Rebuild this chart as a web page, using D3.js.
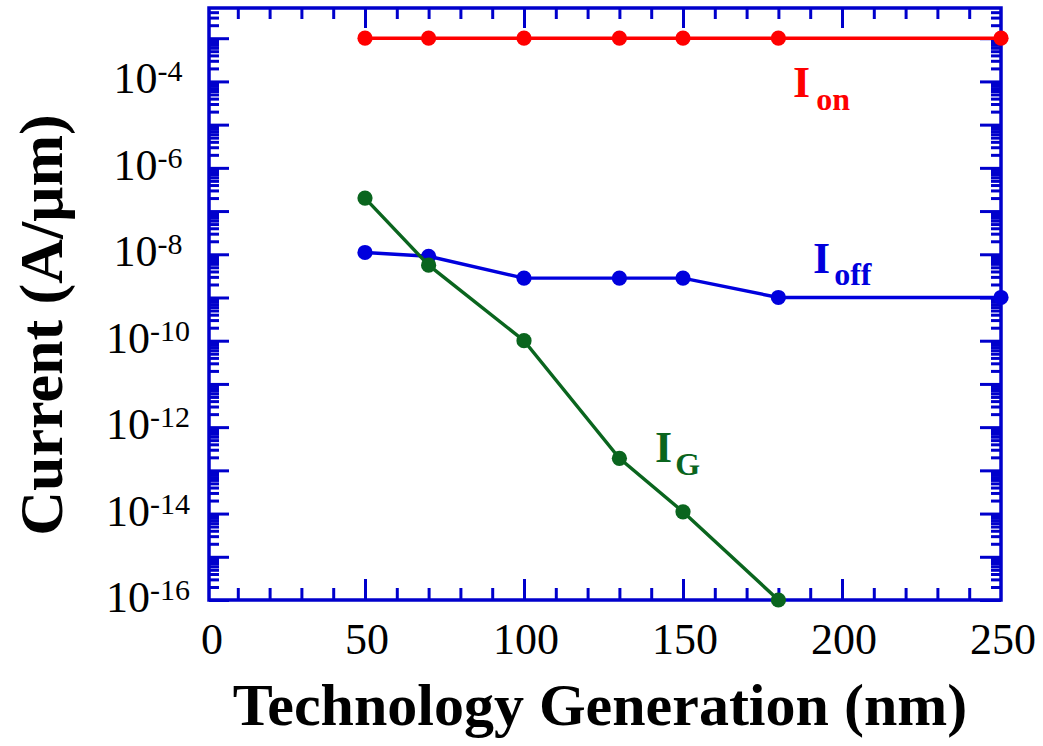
<!DOCTYPE html>
<html>
<head>
<meta charset="utf-8">
<script src="https://cdn.jsdelivr.net/npm/d3@7"></script>
<style>
  html, body { margin: 0; padding: 0; background: #ffffff; }
  svg { display: block; }
  text { font-family: "Liberation Serif", "Times New Roman", serif; }
</style>
</head>
<body>
<svg id="chart" width="1043" height="746"></svg>
<script>
// ---------- data ----------
const techNodes = [50, 70, 100, 130, 150, 180, 250];
const ionValues = [1e-3, 1e-3, 1e-3, 1e-3, 1e-3, 1e-3, 1e-3];
const ioffValues = [1.1e-8, 9e-9, 2.8e-9, 2.8e-9, 2.8e-9, 1e-9, 1e-9];
const igNodes = [50, 70, 100, 130, 150, 180];
const igValues = [2e-7, 5.6e-9, 1e-10, 1.9e-13, 1.1e-14, 1e-16];

const xTickValues = [0, 50, 100, 150, 200, 250];
const yLabelExponents = [-16, -14, -12, -10, -8, -6, -4];
const xTitle = "Technology Generation (nm)";
const yTitle = "Current (A/\u03bcm)";

// ---------- layout ----------
const W = 1043, H = 746;
const L = 209, R = 1001, T = 8, B = 600;
const axisColor = "#0000cc";
const cRed = "#ff0000", cBlue = "#0000dd", cGreen = "#0a651e";

const svg = d3.select("#chart");

const x = d3.scaleLinear().domain([0, 250]).range([206, R]);
const y = d3.scaleLog().domain([1e-16, 5e-3]).range([B, T]);

// tick value sets
const xMinor = d3.range(0, 251, 10).filter(v => v % 50 !== 0);
const yMajor = d3.range(-16, -2).map(e => Math.pow(10, e));
const yMinor = [];
d3.range(-16, -2).forEach(e => {
  for (let m = 2; m <= 9; m++) {
    const v = m * Math.pow(10, e);
    if (v < 5e-3) yMinor.push(v);
  }
});

function styleAxis(g) {
  g.select(".domain").remove();
  g.selectAll(".tick line").attr("stroke", axisColor).attr("stroke-width", 3);
  g.selectAll(".tick text").remove();
}

// bottom
svg.append("g").attr("transform", `translate(0,${B})`)
  .call(d3.axisBottom(x).tickValues(xTickValues.filter(v => v > 0 && v < 250)).tickSize(-21).tickFormat("")).call(styleAxis);
svg.append("g").attr("transform", `translate(0,${B})`)
  .call(d3.axisBottom(x).tickValues(xMinor).tickSize(-12).tickFormat("")).call(styleAxis);
// top
svg.append("g").attr("transform", `translate(0,${T})`)
  .call(d3.axisTop(x).tickValues(xTickValues.filter(v => v > 0 && v < 250)).tickSize(-20).tickFormat("")).call(styleAxis);
svg.append("g").attr("transform", `translate(0,${T})`)
  .call(d3.axisTop(x).tickValues(xMinor).tickSize(-11).tickFormat("")).call(styleAxis);
// left
svg.append("g").attr("transform", `translate(${L},0)`)
  .call(d3.axisLeft(y).tickValues(yMajor).tickSize(-20).tickFormat("")).call(styleAxis);
svg.append("g").attr("transform", `translate(${L},0)`)
  .call(d3.axisLeft(y).tickValues(yMinor).tickSize(-10).tickFormat("")).call(styleAxis);
// right
svg.append("g").attr("transform", `translate(${R},0)`)
  .call(d3.axisRight(y).tickValues(yMajor).tickSize(-21).tickFormat("")).call(styleAxis);
svg.append("g").attr("transform", `translate(${R},0)`)
  .call(d3.axisRight(y).tickValues(yMinor).tickSize(-10).tickFormat("")).call(styleAxis);

// frame
svg.append("rect")
  .attr("x", L).attr("y", T).attr("width", R - L).attr("height", B - T)
  .attr("fill", "none").attr("stroke", axisColor).attr("stroke-width", 3.5);

// x tick labels
svg.append("g").selectAll("text").data(xTickValues).join("text")
  .attr("x", d => d === 0 ? L + 3 : x(d) + 2).attr("y", 654)
  .attr("text-anchor", "middle").attr("font-size", 44).attr("fill", "#000")
  .text(d => d);

// y tick labels with superscripts
const yl = svg.append("g").selectAll("text").data(yLabelExponents).join("text")
  .attr("x", 148).attr("y", d => y(Math.pow(10, d)) + 12)
  .attr("text-anchor", "middle").attr("fill", "#000");
yl.append("tspan").attr("font-size", 44).text("10");
yl.append("tspan").attr("font-size", 30).attr("dy", -12).text(d => "-" + Math.abs(d));

// axis titles
svg.append("text")
  .attr("x", 600).attr("y", 725)
  .attr("text-anchor", "middle").attr("font-size", 60).attr("font-weight", "bold")
  .attr("fill", "#000").text(xTitle);
svg.append("text")
  .attr("transform", "translate(62,325) rotate(-90)")
  .attr("text-anchor", "middle").attr("font-size", 62).attr("font-weight", "bold")
  .attr("fill", "#000").text(yTitle);

// series
const line = d3.line().x(d => x(d[0])).y(d => y(d[1]));
const series = [
  { xs: techNodes, ys: ionValues, color: cRed },
  { xs: techNodes, ys: ioffValues, color: cBlue },
  { xs: igNodes, ys: igValues, color: cGreen }
];
series.forEach(s => {
  const pts = s.xs.map((v, i) => [v, s.ys[i]]);
  svg.append("path").datum(pts)
    .attr("d", line).attr("fill", "none")
    .attr("stroke", s.color).attr("stroke-width", 3.4);
  svg.append("g").selectAll("circle").data(pts).join("circle")
    .attr("cx", d => x(d[0])).attr("cy", d => y(d[1])).attr("r", 7.6)
    .attr("fill", s.color);
});

// series labels
function seriesLabel(px, py, sub, color, dx, dy) {
  const t = svg.append("text").attr("x", px).attr("y", py)
    .attr("font-weight", "bold").attr("fill", color);
  t.append("tspan").attr("font-size", 44).text("I");
  t.append("tspan").attr("font-size", 32).attr("dx", dx).attr("dy", dy).text(sub);
}
seriesLabel(793, 97, "on", cRed, 6, 13);
seriesLabel(813, 273, "off", cBlue, 4, 12);
seriesLabel(655, 462, "G", cGreen, 3, 13);
</script>
</body>
</html>
